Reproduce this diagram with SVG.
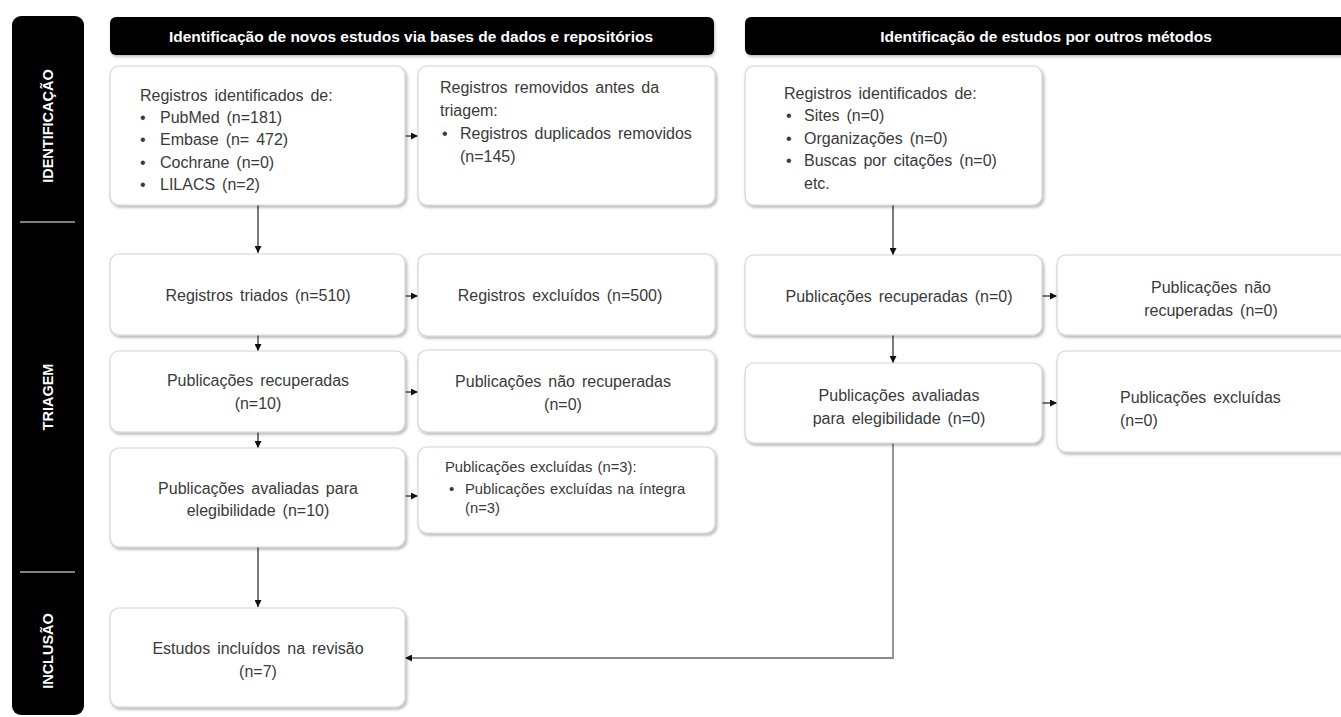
<svg xmlns="http://www.w3.org/2000/svg" width="1341" height="717" viewBox="0 0 1341 717">
<style>
.box{fill:#fff;stroke:#d4d4d4;stroke-width:1.2;filter:url(#sh)}
.bar{fill:#000;filter:url(#sh2)}
.t{font-family:"Liberation Sans",Arial,sans-serif;font-size:16px;fill:#3a3a3a;word-spacing:2.5px}
.c{text-anchor:middle}
.s{font-size:14.8px;word-spacing:1px}
.h{font-family:"Liberation Sans",Arial,sans-serif;font-size:15.5px;font-weight:bold;fill:#fff;text-anchor:middle}
.v{font-family:"Liberation Sans",Arial,sans-serif;font-size:14.5px;font-weight:bold;fill:#fff;text-anchor:middle}
.ln{fill:none;stroke:#222;stroke-width:1.2;marker-end:url(#ah)}
.lg{fill:none;stroke:#8a8a8a;stroke-width:1.8;marker-end:url(#ah)}
</style>
<defs>
<filter id="sh" x="-10%" y="-10%" width="120%" height="130%">
<feDropShadow dx="1.5" dy="2" stdDeviation="1.5" flood-color="#000" flood-opacity="0.3"/>
</filter>
<filter id="sh2" x="-5%" y="-20%" width="110%" height="150%">
<feDropShadow dx="1" dy="2" stdDeviation="1.5" flood-color="#000" flood-opacity="0.25"/>
</filter>
<marker id="ah" viewBox="0 0 10 10" refX="10" refY="5" markerWidth="7" markerHeight="7" markerUnits="userSpaceOnUse" orient="auto">
<path d="M0,0 L10,5 L0,10 z" fill="#111"/>
</marker>
</defs>
<rect width="1341" height="717" fill="#fff"/>

<g id="sidebar">
<rect x="12" y="16" width="72" height="699" rx="9" fill="#000"/>
<line x1="20" y1="222" x2="75" y2="222" stroke="#fff" stroke-width="1"/>
<line x1="20" y1="572" x2="75" y2="572" stroke="#fff" stroke-width="1"/>
<text class="v" transform="translate(53,126) rotate(-90)">IDENTIFICAÇÃO</text>
<text class="v" transform="translate(53,397) rotate(-90)">TRIAGEM</text>
<text class="v" transform="translate(53,651) rotate(-90)">INCLUSÃO</text>
</g>

<g id="header-left">
<rect class="bar" x="110" y="17" width="604" height="38" rx="6"/>
<text class="h" x="411" y="42">Identificação de novos estudos via bases de dados e repositórios</text>
</g>
<g id="header-right">
<rect class="bar" x="745" y="17" width="610" height="38" rx="6"/>
<text class="h" x="1046" y="42">Identificação de estudos por outros métodos</text>
</g>

<g id="connectors">
<path class="ln" d="M258,205 V253"/>
<path class="ln" d="M405,136 H418"/>
<path class="ln" d="M258,335 V351"/>
<path class="ln" d="M258,432 V448"/>
<path class="ln" d="M258,547 V607"/>
<path class="ln" d="M405,296 H418"/>
<path class="ln" d="M405,392 H418"/>
<path class="ln" d="M405,496 H418"/>
<path class="ln" d="M893,205 V255"/>
<path class="ln" d="M1042,296 H1057"/>
<path class="ln" d="M893,335 V363"/>
<path class="ln" d="M1042,403 H1057"/>
<path class="lg" d="M893,443 V658 H405"/>
</g>

<g id="n-registros-id">
<rect class="box" x="110" y="66" width="295" height="139" rx="9"/>
<text class="t" x="140" y="101">Registros identificados de:</text>
<text class="t" x="140" y="123">•</text><text class="t" x="160" y="123">PubMed (n=181)</text>
<text class="t" x="140" y="145">•</text><text class="t" x="160" y="145">Embase (n= 472)</text>
<text class="t" x="140" y="168">•</text><text class="t" x="160" y="168">Cochrane (n=0)</text>
<text class="t" x="140" y="190">•</text><text class="t" x="160" y="190">LILACS (n=2)</text>
</g>

<g id="n-removidos">
<rect class="box" x="418" y="66" width="297" height="139" rx="9"/>
<text class="t" x="440" y="93">Registros removidos antes da</text>
<text class="t" x="440" y="116">triagem:</text>
<text class="t" x="442" y="139">•</text><text class="t" x="460" y="139">Registros duplicados removidos</text>
<text class="t" x="460" y="162">(n=145)</text>
</g>

<g id="n-outros-id">
<rect class="box" x="745" y="66" width="297" height="139" rx="9"/>
<text class="t" x="784" y="99">Registros identificados de:</text>
<text class="t" x="786" y="121">•</text><text class="t" x="804" y="121">Sites (n=0)</text>
<text class="t" x="786" y="144">•</text><text class="t" x="804" y="144">Organizações (n=0)</text>
<text class="t" x="786" y="166">•</text><text class="t" x="804" y="166">Buscas por citações (n=0)</text>
<text class="t" x="804" y="189">etc.</text>
</g>

<g id="n-triados">
<rect class="box" x="110" y="254" width="295" height="81" rx="9"/>
<text class="t c" x="258" y="301">Registros triados (n=510)</text>
</g>
<g id="n-excluidos">
<rect class="box" x="418" y="254" width="297" height="82" rx="9"/>
<text class="t c" x="560" y="301">Registros excluídos (n=500)</text>
</g>
<g id="n-pub-rec-0">
<rect class="box" x="745" y="255" width="297" height="80" rx="9"/>
<text class="t c" x="899" y="302">Publicações recuperadas (n=0)</text>
</g>
<g id="n-pub-nao-rec-0">
<rect class="box" x="1057" y="255" width="300" height="80" rx="9"/>
<text class="t c" x="1211" y="293">Publicações não</text>
<text class="t c" x="1211" y="316">recuperadas (n=0)</text>
</g>

<g id="n-pub-rec-10">
<rect class="box" x="110" y="351" width="295" height="81" rx="9"/>
<text class="t c" x="258" y="386">Publicações recuperadas</text>
<text class="t c" x="258" y="409">(n=10)</text>
</g>
<g id="n-pub-nao-rec">
<rect class="box" x="418" y="350" width="297" height="82" rx="9"/>
<text class="t c" x="563" y="387">Publicações não recuperadas</text>
<text class="t c" x="563" y="410">(n=0)</text>
</g>
<g id="n-pub-aval-0">
<rect class="box" x="745" y="363" width="297" height="80" rx="9"/>
<text class="t c" x="899" y="401">Publicações avaliadas</text>
<text class="t c" x="899" y="424">para elegibilidade (n=0)</text>
</g>
<g id="n-pub-excl-0">
<rect class="box" x="1057" y="351" width="300" height="101" rx="9"/>
<text class="t" x="1120" y="403">Publicações excluídas</text>
<text class="t" x="1120" y="426">(n=0)</text>
</g>

<g id="n-pub-aval-10">
<rect class="box" x="110" y="448" width="295" height="99" rx="9"/>
<text class="t c" x="258" y="494">Publicações avaliadas para</text>
<text class="t c" x="258" y="516">elegibilidade (n=10)</text>
</g>
<g id="n-pub-excl-3">
<rect class="box" x="418" y="447" width="297" height="86" rx="9"/>
<text class="t s" x="445" y="472">Publicações excluídas (n=3):</text>
<text class="t s" x="449" y="494">•</text><text class="t s" x="465" y="494">Publicações excluídas na íntegra</text>
<text class="t s" x="465" y="513">(n=3)</text>
</g>

<g id="n-incluidos">
<rect class="box" x="110" y="608" width="295" height="99" rx="9"/>
<text class="t c" x="258" y="654">Estudos incluídos na revisão</text>
<text class="t c" x="258" y="677">(n=7)</text>
</g>
</svg>
